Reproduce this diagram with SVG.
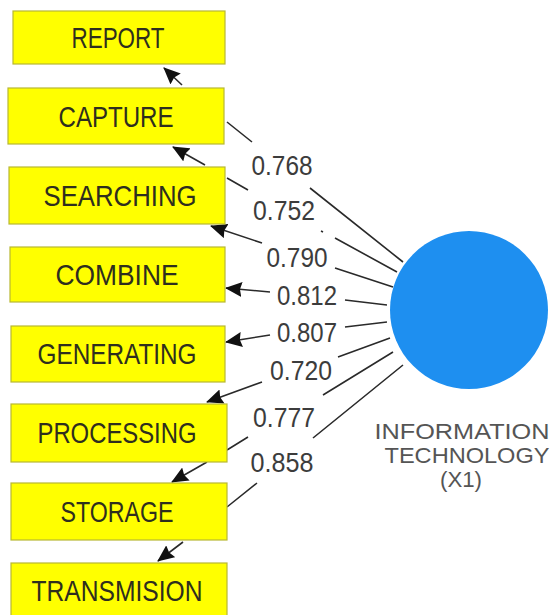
<svg xmlns="http://www.w3.org/2000/svg" width="558" height="615" viewBox="0 0 558 615">
<style>
.box{fill:#ffff00;stroke:#b8b832;stroke-width:1.2}
.bt{font-family:"Liberation Sans",Arial,sans-serif;font-size:29px;fill:#2e2e1e;text-anchor:middle}
.lbl{font-family:"Liberation Sans",Arial,sans-serif;font-size:27.5px;fill:#3c3c3c;text-anchor:middle}
.con{fill:none;stroke:#2a2a2a;stroke-width:1.6;marker-end:url(#ah)}
.lv{font-family:"Liberation Sans",Arial,sans-serif;font-size:22.5px;fill:#555;text-anchor:middle}
</style>
<defs>
<marker id="ah" markerUnits="userSpaceOnUse" markerWidth="17" markerHeight="15" viewBox="0 0 17 15" refX="16" refY="7.5" orient="auto">
<path d="M0,0 L17,7.5 L0,15 L2,7.5 Z" fill="#111"/>
</marker>
</defs>
<rect width="558" height="615" fill="#fff"/>
<g id="connectors">
<path class="con" d="M403,262 L310,188 M252,142 L227,122 M182,85 L164,68"/>
<path class="con" d="M397,272 L335,238 M323,232 L321,231 M248,190 L227,178 M205,165 L173,147"/>
<path class="con" d="M393,287 L335,268 M262,243 L211,226"/>
<path class="con" d="M387,305 L345,300 M270,292 L226,288"/>
<path class="con" d="M387,322 L345,327 M270,335 L226,342"/>
<path class="con" d="M390,338 L338,357 M262,382 L207,402"/>
<path class="con" d="M393,352 L323,395 M248,437 L227,450 M207,462 L172,482"/>
<path class="con" d="M403,365 L313,438 M257,483 L227,507 M183,542 L158,561"/>
</g>
<g id="labels">
<text class="lbl" x="282" y="175" textLength="61" lengthAdjust="spacingAndGlyphs">0.768</text>
<text class="lbl" x="284" y="220" textLength="62" lengthAdjust="spacingAndGlyphs">0.752</text>
<text class="lbl" x="297" y="267" textLength="61" lengthAdjust="spacingAndGlyphs">0.790</text>
<text class="lbl" x="307" y="305" textLength="60" lengthAdjust="spacingAndGlyphs">0.812</text>
<text class="lbl" x="307" y="342" textLength="60" lengthAdjust="spacingAndGlyphs">0.807</text>
<text class="lbl" x="301" y="380" textLength="62" lengthAdjust="spacingAndGlyphs">0.720</text>
<text class="lbl" x="284" y="427" textLength="62" lengthAdjust="spacingAndGlyphs">0.777</text>
<text class="lbl" x="282" y="472" textLength="63" lengthAdjust="spacingAndGlyphs">0.858</text>
</g>
<g id="report"><rect class="box" x="13" y="11" width="212" height="53"/><text class="bt" x="118" y="48" textLength="93" lengthAdjust="spacingAndGlyphs">REPORT</text></g>
<g id="capture"><rect class="box" x="8" y="88" width="216" height="56"/><text class="bt" x="116" y="127" textLength="115" lengthAdjust="spacingAndGlyphs">CAPTURE</text></g>
<g id="searching"><rect class="box" x="9" y="167" width="216" height="57"/><text class="bt" x="120" y="206" textLength="153" lengthAdjust="spacingAndGlyphs">SEARCHING</text></g>
<g id="combine"><rect class="box" x="10" y="247" width="215" height="55"/><text class="bt" x="117" y="285" textLength="123" lengthAdjust="spacingAndGlyphs">COMBINE</text></g>
<g id="generating"><rect class="box" x="11" y="326" width="214" height="56"/><text class="bt" x="117" y="364" textLength="159" lengthAdjust="spacingAndGlyphs">GENERATING</text></g>
<g id="processing"><rect class="box" x="11" y="404" width="216" height="58"/><text class="bt" x="117" y="443" textLength="159" lengthAdjust="spacingAndGlyphs">PROCESSING</text></g>
<g id="storage"><rect class="box" x="11" y="483" width="216" height="57"/><text class="bt" x="117" y="522" textLength="113" lengthAdjust="spacingAndGlyphs">STORAGE</text></g>
<g id="transmision"><rect class="box" x="11" y="563" width="216" height="60"/><text class="bt" x="117" y="601" textLength="171" lengthAdjust="spacingAndGlyphs">TRANSMISION</text></g>
<g id="information-technology">
<circle cx="469" cy="310" r="79" fill="#1e8ff0"/>
<text class="lv" x="462" y="439" textLength="175" lengthAdjust="spacingAndGlyphs">INFORMATION</text>
<text class="lv" x="467" y="463" textLength="165" lengthAdjust="spacingAndGlyphs">TECHNOLOGY</text>
<text class="lv" x="461" y="487" textLength="42" lengthAdjust="spacingAndGlyphs">(X1)</text>
</g>
</svg>
